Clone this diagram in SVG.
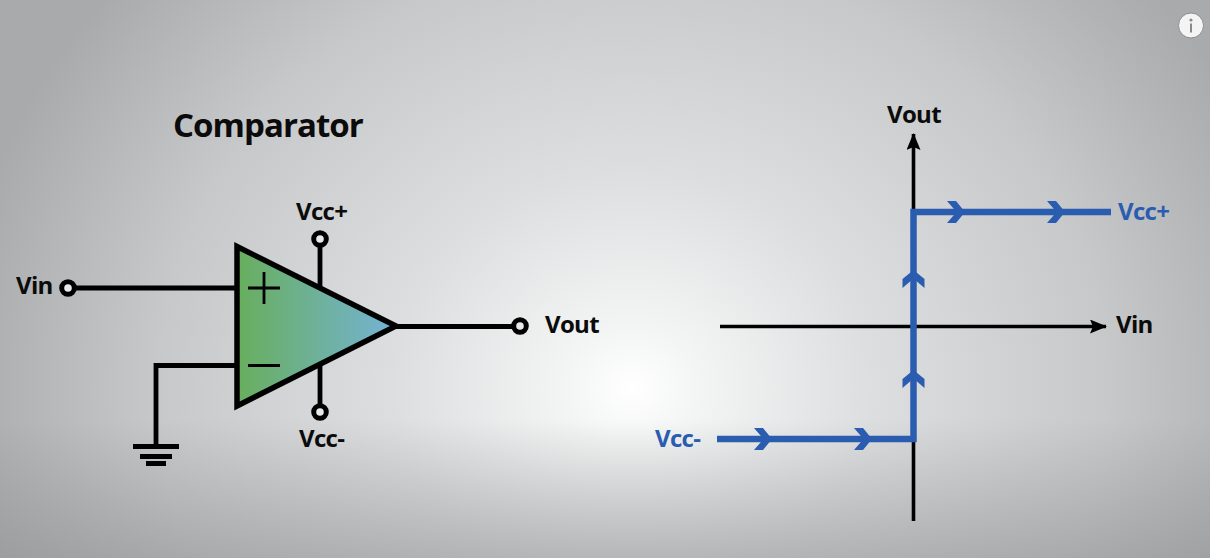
<svg xmlns="http://www.w3.org/2000/svg" width="1210" height="558" viewBox="0 0 1210 558">
<style>
text{font-family:"Open Sans","Noto Sans","Liberation Sans",sans-serif;font-weight:700;fill:#0b0b0b}
.lbl{font-size:24px;letter-spacing:-.7px}
.blue{fill:#2a5cb0}
.w{fill:none;stroke:#000;stroke-width:4.800}
.thin{fill:none;stroke:#000;stroke-width:3.600}
.sign{fill:none;stroke:#000;stroke-width:2.800}
.term{fill:#e8e9e9;stroke:#000;stroke-width:5}
.b{fill:none;stroke:#2a5cb0;stroke-width:6.500}
.chev{fill:#2a5cb0}
</style>
<defs>
<radialGradient id="bg" gradientUnits="userSpaceOnUse" cx="0" cy="0" r="1" gradientTransform="translate(632 388) scale(680 620)">
<stop offset="0" stop-color="#ffffff"/>
<stop offset=".1" stop-color="#f3f4f4"/>
<stop offset=".35" stop-color="#dddedf"/>
<stop offset=".7" stop-color="#c6c8c9"/>
<stop offset="1" stop-color="#a8aaac"/>
</radialGradient>
<linearGradient id="shade" x1="0" y1="420" x2="0" y2="558" gradientUnits="userSpaceOnUse">
<stop offset="0" stop-color="#8f9193" stop-opacity="0"/>
<stop offset="1" stop-color="#8f9193" stop-opacity=".55"/>
</linearGradient>
<linearGradient id="amp" x1="236" y1="0" x2="396" y2="0" gradientUnits="userSpaceOnUse">
<stop offset="0" stop-color="#68ae5c"/>
<stop offset="1" stop-color="#74b3d6"/>
</linearGradient>
<marker id="ah" markerUnits="userSpaceOnUse" markerWidth="18" markerHeight="14" refX="16" refY="7" orient="auto"><path d="M0 0L17 7L0 14L3 7Z" fill="#000"/></marker>
<path id="ch" d="M-17 -11H-8L1 0L-8 11H-17L-7.500 0Z"/>
</defs>
<rect width="1210" height="558" fill="url(#bg)"/>
<rect y="420" width="1210" height="138" fill="url(#shade)"/>
<g id="connectors">
<path class="w" d="M68 288H237"/>
<path class="w" d="M237 365.500H156V446"/>
<path class="w" d="M320 244V289"/>
<path class="w" d="M320 362V407"/>
<path class="w" d="M396 326.500H516"/>
<path class="thin" d="M720 326.500H1106" marker-end="url(#ah)"/>
<path class="thin" d="M913.500 521V134" marker-end="url(#ah)"/>
<path class="b" d="M717 439H913.500V212H1111"/>
</g>
<g id="chevrons" class="chev">
<use href="#ch" x="771" y="439"/><use href="#ch" x="871" y="439"/>
<use href="#ch" x="964" y="212"/><use href="#ch" x="1064" y="212"/>
<use href="#ch" transform="translate(913.500 371) rotate(-90)"/>
<use href="#ch" transform="translate(913.500 271) rotate(-90)"/>
</g>
<g id="comparator">
<path d="M237 246.500L396 326L237 406Z" fill="url(#amp)" stroke="#000" stroke-width="5.500"/>
<path class="sign" d="M248 288H280M264 272V304M248 365.500H280"/>
</g>
<g id="ground"><path fill="#000" d="M133 444H179V449H133ZM140 454H172V459H140ZM146 461H166V466H146Z"/></g>
<g id="vin-term"><circle class="term" cx="68" cy="288" r="6.300"/><text class="lbl" x="16" y="294">Vin</text></g>
<g id="vccp-term"><circle class="term" cx="320" cy="239" r="6.300"/><text class="lbl" x="296" y="220">Vcc+</text></g>
<g id="vccm-term"><circle class="term" cx="320" cy="412" r="6.300"/><text class="lbl" x="299" y="447">Vcc-</text></g>
<g id="vout-term"><circle class="term" cx="520" cy="326" r="6.300"/><text class="lbl" x="545" y="333">Vout</text></g>
<g id="title"><text x="173" y="137" font-size="33" letter-spacing="-.95">Comparator</text></g>
<g id="axis-labels">
<text class="lbl" x="887" y="123">Vout</text>
<text class="lbl" x="1116" y="333">Vin</text>
<text class="lbl blue" x="1118" y="220">Vcc+</text>
<text class="lbl blue" x="655" y="447">Vcc-</text>
</g>
<g id="info"><circle cx="1191" cy="25.500" r="12.500" fill="#f4f4f4" stroke="#8e8e8e"/><circle cx="1191" cy="20" r="1.600" fill="#8a8a8a"/><rect x="1190" y="23.500" width="2" height="9" fill="#8a8a8a"/></g>
</svg>
